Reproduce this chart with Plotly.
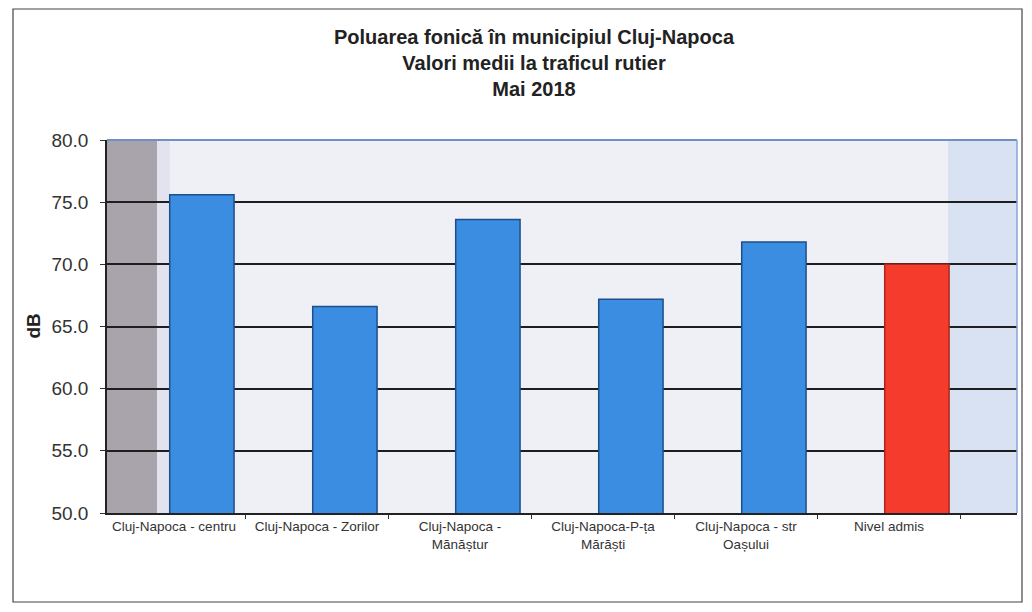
import plotly.graph_objects as go

categories = [
    "Cluj-Napoca - centru",
    "Cluj-Napoca - Zorilor",
    "Cluj-Napoca -<br>Mănăștur",
    "Cluj-Napoca-P-ța<br>Mărăști",
    "Cluj-Napoca - str<br>Oașului",
    "Nivel admis",
]
values_db = [75.6, 66.6, 73.6, 67.2, 71.8, 70.0]
y_ticks = [50, 55, 60, 65, 70, 75, 80]
title_lines = [
    "Poluarea fonică în municipiul Cluj-Napoca",
    "Valori medii la traficul rutier",
    "Mai 2018",
]

bar_colors = ["#3a8de0"] * 5 + ["#f43b2c"]
line_colors = ["#1f4f8a"] * 5 + ["#a8281e"]

W, H = 1016, 596          # page body has an 8px margin
L, R, T, B = 99, 7, 132, 91
PW, PH = W - L - R, H - T - B

fig = go.Figure()
fig.add_trace(go.Bar(
    x=categories,
    y=values_db,
    base=0,
    width=0.45,
    offset=-0.03,
    marker=dict(color=bar_colors, line=dict(color=line_colors, width=1.5)),
    showlegend=False,
))

FONT = "Liberation Sans, Arial, sans-serif"

fig.update_layout(
    width=W, height=H,
    margin=dict(l=L, r=R, t=T, b=B, autoexpand=False),
    paper_bgcolor="white",
    plot_bgcolor="#eef0f6",
    font=dict(family=FONT, color="#333"),
    title=dict(
        text="<b>" + "<br>".join(title_lines) + "</b>",
        x=526 / W, xanchor="center", xref="container",
        y=1 - 36 / H, yanchor="top", yref="container",
        font=dict(size=20, color="#222", family=FONT),
    ),
    xaxis=dict(
        range=[-0.4685, 5.895],
        tickson="boundaries",
        ticks="outside", ticklen=4, tickcolor="#333",
        showgrid=False,
        showline=True, linecolor="#222", linewidth=2,
        tickfont=dict(size=13.5, color="#333", family=FONT),
        tickangle=0,
    ),
    yaxis=dict(
        range=[50, 80],
        tickvals=y_ticks,
        tickformat=".1f",
        ticks="outside", ticklen=5, tickcolor="#333",
        showgrid=True, gridcolor="#1e1e1e", gridwidth=2,
        showline=True, linecolor="#222", linewidth=1.5,
        tickfont=dict(size=19, color="#333", family=FONT),
        ticklabelstandoff=8,
        zeroline=False,
    ),
)

# decorative background regions (3D side wall, right light panel)
fig.add_shape(type="rect", xref="paper", yref="paper", x0=0, x1=50 / PW, y0=0, y1=1,
              fillcolor="#a9a3ac", line_width=0, layer="below")
fig.add_shape(type="rect", xref="paper", yref="paper", x0=50 / PW, x1=63 / PW, y0=0, y1=1,
              fillcolor="#e2e3ee", line_width=0, layer="below")
fig.add_shape(type="rect", xref="paper", yref="paper", x0=(940 - L) / PW, x1=1, y0=0, y1=1,
              fillcolor="#d8e2f3", line_width=0, layer="below")
# top and right edges of plot area
fig.add_shape(type="line", xref="paper", yref="paper", x0=0, x1=1, y0=1, y1=1,
              line=dict(color="#6f8fc6", width=2), layer="above")
fig.add_shape(type="line", xref="paper", yref="paper", x0=1, x1=1, y0=0, y1=1,
              line=dict(color="#8aa3d6", width=1.5), layer="above")
# outer chart frame
fig.add_shape(type="rect", xref="paper", yref="paper",
              x0=(5 - L) / PW, x1=(1014 - L) / PW,
              y0=(T + PH - 594) / PH, y1=(T + PH - 1) / PH,
              line=dict(color="#444", width=1.2), fillcolor="rgba(0,0,0,0)", layer="below")

fig.add_annotation(text="<b>dB</b>", xref="paper", yref="paper",
                   x=(25 - L) / PW, y=0.5, xanchor="center", yanchor="middle",
                   textangle=-90, showarrow=False,
                   font=dict(size=19, color="#222", family=FONT))

fig.write_html("out.html")
